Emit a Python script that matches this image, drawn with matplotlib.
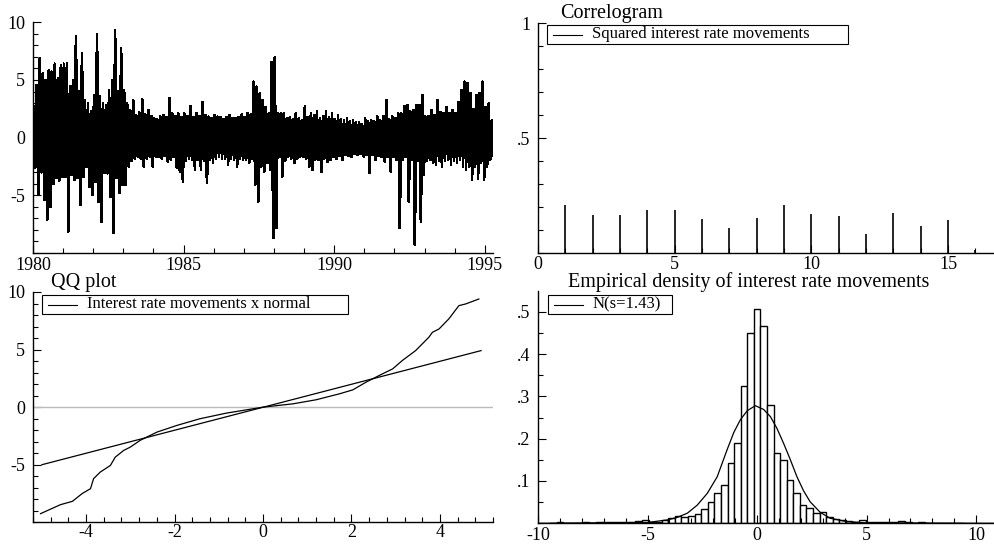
import matplotlib
matplotlib.use('Agg')
import matplotlib.pyplot as plt
from matplotlib.patches import Rectangle
from matplotlib.lines import Line2D
from matplotlib.ticker import MultipleLocator, FixedLocator, FixedFormatter
import numpy as np

plt.rcParams['font.family'] = ['Liberation Serif', 'DejaVu Serif']
plt.rcParams['axes.unicode_minus'] = False
plt.rcParams['path.simplify'] = False

# interest rate movements: high / low read per 0.1 year from 1980.0
ts_start = 1980.0
ts_step = 0.1
ts_high = [2.7, 4.55, 6.86, 5.56, 5.0, 5.85, 5.71, 6.4, 5.13, 6.28,
           6.4, 6.43, 4.41, 5.0, 8.79, 4.0, 7.29, 3.26, 3.0, 2.3,
           3.69, 8.93, 3.54, 2.97, 2.82, 4.12, 4.99, 9.31, 4.0, 7.72,
           4.12, 2.97, 2.39, 3.26, 1.96, 2.2, 3.31, 2.0, 2.39, 1.9,
           1.67, 1.6, 1.82, 1.96, 1.8, 3.46, 2.1, 1.9, 2.1, 1.8,
           2.1, 1.9, 2.74, 1.8, 2.1, 1.9, 3.05, 1.96, 1.82, 1.7,
           1.96, 1.82, 1.8, 1.6, 1.76, 1.96, 1.7, 1.67, 1.8, 2.0,
           1.8, 2.16, 2.0, 4.84, 4.41, 3.83, 3.26, 2.68, 2.1, 6.57,
           6.95, 2.1, 2.1, 2.1, 1.67, 1.75, 1.6, 2.1, 1.7, 1.53,
           2.74, 1.8, 2.1, 1.96, 2.25, 1.7, 1.82, 2.25, 1.8, 2.1,
           1.6, 1.96, 1.6, 1.5, 1.67, 1.4, 1.53, 1.3, 1.38, 1.2,
           1.67, 1.4, 1.53, 1.4, 1.82, 1.5, 1.82, 3.26, 1.6, 1.82,
           1.7, 2.1, 2.1, 2.74, 2.82, 2.25, 2.39, 2.82, 2.82, 3.69,
           1.82, 1.9, 2.39, 1.96, 3.26, 2.2, 2.1, 2.68, 2.1, 2.39,
           2.1, 3.11, 4.12, 4.84, 4.70, 3.83, 2.5, 3.69, 3.83, 4.84,
           2.68, 2.97, 1.5]
ts_low = [-2.6, -4.9, -3.0, -5.4, -7.1, -6.0, -4.0, -3.5, -3.7, -3.4,
          -3.4, -8.13, -3.2, -3.66, -3.5, -5.82, -3.4, -2.51, -4.24, -4.96,
          -3.8, -5.53, -7.26, -3.08, -3.08, -5.1, -8.27, -3.5, -4.81, -4.09,
          -4.09, -2.5, -2.0, -1.79, -1.64, -1.8, -2.51, -1.8, -1.64, -2.51,
          -1.64, -1.7, -1.79, -1.6, -2.07, -1.93, -1.7, -2.65, -2.94, -3.8,
          -2.0, -1.8, -1.9, -2.8, -1.9, -2.8, -2.0, -3.95, -1.93, -2.22,
          -1.8, -1.7, -1.79, -1.79, -2.36, -1.8, -1.93, -2.51, -1.8, -1.93,
          -1.93, -2.22, -1.8, -4.09, -5.53, -2.5, -2.94, -2.2, -2.8, -8.70,
          -7.84, -1.64, -3.37, -2.0, -1.64, -1.8, -2.22, -1.8, -1.64, -1.7,
          -1.8, -2.51, -2.8, -1.9, -1.93, -2.94, -1.8, -2.07, -1.93, -1.7,
          -1.87, -1.6, -1.93, -1.5, -1.6, -1.64, -1.4, -1.5, -1.4, -1.64,
          -1.5, -3.08, -1.5, -1.93, -1.6, -1.7, -2.07, -1.7, -2.94, -1.7,
          -1.93, -7.84, -1.93, -1.7, -5.53, -1.9, -9.28, -2.0, -7.26, -3.2,
          -2.0, -1.93, -2.2, -2.36, -2.0, -2.51, -2.0, -1.9, -2.36, -2.0,
          -2.22, -1.9, -2.51, -2.8, -2.5, -3.66, -2.51, -3.52, -2.2, -3.66,
          -2.51, -1.93, -1.6]

# correlogram of squared movements
acf_lags = list(range(1, 17))
acf_vals = [0.21, 0.167, 0.167, 0.186, 0.186, 0.149, 0.110, 0.152,
            0.207, 0.168, 0.159, 0.084, 0.175, 0.119, 0.142, 0.014]

# QQ plot
qq_normal = [-5.03, -4.58, -4.31, -4.09, -3.9, -3.83, -3.68, -3.45, -3.34, -3.15,
             -3.0, -2.78, -2.4, -1.95, -1.43, -0.83, 0.0, 0.68, 1.2, 1.73,
             2.03, 2.33, 2.7, 2.93, 3.15, 3.45, 3.75, 3.83, 3.98, 4.2,
             4.43, 4.58, 4.88]
qq_data = [-9.25, -8.47, -8.18, -7.51, -7.08, -6.21, -5.64, -5.06, -4.34, -3.76,
           -3.47, -2.89, -2.17, -1.59, -1.01, -0.52, 0.0, 0.29, 0.64, 1.16,
           1.5, 2.17, 2.89, 3.32, 4.05, 4.91, 6.07, 6.5, 6.79, 7.66,
           8.82, 8.96, 9.39]
qq_line_x = [-5.0, 4.93]
qq_line_y = [-5.0, 4.91]

# empirical density (bins of 0.3, centred on -9.3 ... 9.3)
hist_width = 0.3
hist_first = -9.3
hist_density = [0.001, 0.002, 0.001, 0.001, 0.001, 0.002, 0.001, 0.002, 0.003, 0.002,
                0.002, 0.003, 0.004, 0.005, 0.007, 0.003, 0.004, 0.007, 0.013, 0.017,
                0.015, 0.017, 0.023, 0.033, 0.050, 0.072, 0.090, 0.143, 0.190, 0.324,
                0.450, 0.507, 0.466, 0.279, 0.167, 0.150, 0.102, 0.072, 0.044, 0.035,
                0.024, 0.027, 0.015, 0.009, 0.007, 0.005, 0.004, 0.008, 0.003, 0.002,
                0.003, 0.002, 0.003, 0.005, 0.002, 0.001, 0.002, 0.001, 0.001, 0.001,
                0.001, 0.001, 0.001]
dens_x = [-10.0, -5.0, -4.09, -3.64, -3.18, -2.73, -2.27, -1.82, -1.36, -1.06,
          -0.76, -0.45, -0.08, 0.3, 0.61, 0.91, 1.21, 1.52, 1.82, 2.12,
          2.42, 2.88, 3.33, 4.09, 5.0, 10.86]
dens_y = [0.0, 0.002, 0.008, 0.014, 0.024, 0.043, 0.071, 0.11, 0.175, 0.215,
          0.245, 0.266, 0.278, 0.269, 0.252, 0.224, 0.189, 0.15, 0.11, 0.077,
          0.051, 0.026, 0.012, 0.004, 0.001, 0.0]

W, H = 995, 550
fig = plt.figure(figsize=(W / 100, H / 100), dpi=100)


def fx(px):
    return px / W


def fy(py):
    return 1 - py / H


def make_ax(left, top, right, bottom):
    ax = fig.add_axes([fx(left), fy(bottom), (right - left) / W, (bottom - top) / H])
    ax.spines['top'].set_visible(False)
    ax.spines['right'].set_visible(False)
    for s in ('left', 'bottom'):
        ax.spines[s].set_linewidth(1.0)
    ax.tick_params(which='both', direction='in', top=False, right=False,
                   labelsize=13, width=0.8)
    ax.tick_params(which='major', length=6)
    ax.tick_params(which='minor', length=3.5)
    ax.tick_params(axis='y', pad=5.5)
    ax.tick_params(axis='x', pad=3)
    return ax


def legend_box(left, top, right, bottom, label):
    fig.add_artist(Rectangle((fx(left), fy(bottom)), (right - left) / W, (bottom - top) / H,
                             transform=fig.transFigure, facecolor='white',
                             edgecolor='black', lw=0.8, zorder=10))
    ym = (top + bottom) / 2
    fig.add_artist(Line2D([fx(left + 6), fx(left + 35)], [fy(ym), fy(ym)],
                          transform=fig.transFigure, color='black', lw=0.8, zorder=11))
    fig.text(fx(left + 45), fy(ym), label, fontsize=12, va='center', ha='left', zorder=12)


# top-left: time series
ax1 = make_ax(33, 22.3, 493, 253)
t = []
v = []
for k in range(len(ts_high)):
    t += [ts_start + ts_step * k + 0.025, ts_start + ts_step * k + 0.075]
    v += [ts_high[k], ts_low[k]]
ax1.plot(t, v, color='black', lw=1.2, antialiased=False)
ax1.set_xlim(1980, 1995.27)
ax1.set_ylim(-10, 10)
ax1.xaxis.set_major_locator(FixedLocator([1980, 1985, 1990, 1995]))
ax1.xaxis.set_minor_locator(MultipleLocator(1))
ax1.yaxis.set_major_locator(FixedLocator([-5, 0, 5, 10]))
ax1.yaxis.set_minor_locator(MultipleLocator(1))

# top-right: correlogram
ax2 = make_ax(538, 23.3, 995, 253)
ax2.vlines(acf_lags, 0, acf_vals, color='black', lw=1.2)
ax2.set_xlim(0, 16.72)
ax2.set_ylim(0, 1)
ax2.xaxis.set_major_locator(FixedLocator([0, 5, 10, 15]))
ax2.xaxis.set_minor_locator(MultipleLocator(1))
ax2.yaxis.set_major_locator(FixedLocator([0.5, 1.0]))
ax2.yaxis.set_major_formatter(FixedFormatter(['.5', '1']))
ax2.yaxis.set_minor_locator(MultipleLocator(0.1))
ax2.tick_params(axis='x', pad=2)
fig.text(fx(560), fy(17.7), 'Correlogram', fontsize=14.5, va='baseline', ha='left')
legend_box(547, 25, 848, 44, 'Squared interest rate movements')

# bottom-left: QQ plot
ax3 = make_ax(33, 292, 493, 522.3)
ax3.axhline(0, color='#bbbbbb', lw=1.0)
ax3.plot(qq_line_x, qq_line_y, color='black', lw=0.9)
ax3.plot(qq_normal, qq_data, color='black', lw=0.9)
ax3.set_xlim(-5.2, 5.2)
ax3.set_ylim(-10, 10)
ax3.xaxis.set_major_locator(FixedLocator([-4, -2, 0, 2, 4]))
ax3.xaxis.set_minor_locator(MultipleLocator(0.4))
ax3.yaxis.set_major_locator(FixedLocator([-5, 0, 5, 10]))
ax3.yaxis.set_minor_locator(MultipleLocator(1))
ax3.tick_params(axis='x', pad=1)
fig.text(fx(51), fy(287), 'QQ plot', fontsize=14.5, va='baseline', ha='left')
legend_box(42, 295, 348, 314, 'Interest rate movements x normal')

# bottom-right: empirical density
ax4 = make_ax(538, 291, 995, 523.3)
centers = hist_first + hist_width * np.arange(len(hist_density))
ax4.bar(centers, hist_density, width=hist_width, facecolor='white',
        edgecolor='black', lw=1.0)
ax4.plot(dens_x, dens_y, color='black', lw=0.9)
ax4.set_xlim(-10, 10.86)
ax4.set_ylim(0, 0.549)
ax4.xaxis.set_major_locator(FixedLocator([-10, -5, 0, 5, 10]))
ax4.xaxis.set_minor_locator(MultipleLocator(1))
ax4.yaxis.set_major_locator(FixedLocator([0.1, 0.2, 0.3, 0.4, 0.5]))
ax4.yaxis.set_major_formatter(FixedFormatter(['.1', '.2', '.3', '.4', '.5']))
ax4.yaxis.set_minor_locator(MultipleLocator(0.05))
fig.text(fx(749), fy(287.5), 'Empirical density of interest rate movements',
         fontsize=14.5, va='baseline', ha='center')
legend_box(547.7, 295, 671.7, 314, 'N(s=1.43)')

fig.savefig('out.png', dpi=100)
